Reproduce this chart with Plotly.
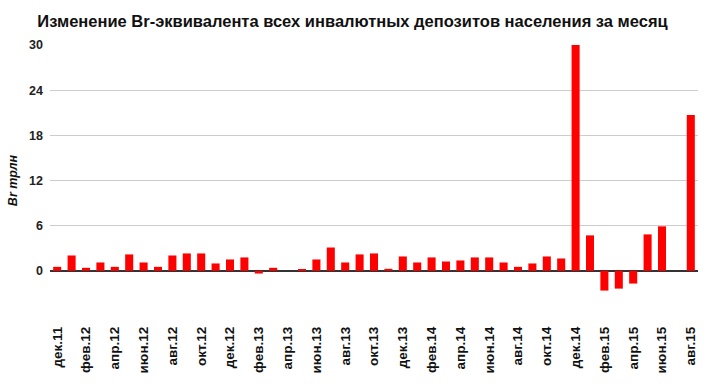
import plotly.graph_objects as go

months = [
    "дек.11", "янв.12", "фев.12", "мар.12", "апр.12", "май.12", "июн.12", "июл.12",
    "авг.12", "сен.12", "окт.12", "ноя.12", "дек.12", "янв.13", "фев.13", "мар.13",
    "апр.13", "май.13", "июн.13", "июл.13", "авг.13", "сен.13", "окт.13", "ноя.13",
    "дек.13", "янв.14", "фев.14", "мар.14", "апр.14", "май.14", "июн.14", "июл.14",
    "авг.14", "сен.14", "окт.14", "ноя.14", "дек.14", "янв.15", "фев.15", "мар.15",
    "апр.15", "май.15", "июн.15", "июл.15", "авг.15",
]
values = [
    0.53, 2.04, 0.4, 1.11, 0.53, 2.18, 1.11, 0.53, 2.04, 2.31, 2.31, 0.98,
    1.51, 1.78, -0.36, 0.4, 0, 0.18, 1.51, 3.1, 1.11, 2.18, 2.31, 0.27,
    1.91, 1.11, 1.78, 1.24, 1.38, 1.78, 1.78, 1.11, 0.53, 0.98, 1.91, 1.64,
    30, 4.71, -2.62, -2.36, -1.69, 4.84, 5.91, 0, 20.7,
]
shown_ticks = months[::2]
y_ticks = [0, 6, 12, 18, 24, 30]

FONT = "Liberation Sans, Arial, Helvetica, sans-serif"

fig = go.Figure(
    go.Bar(x=months, y=values, marker=dict(color="#ff0000", line=dict(width=0)),
           width=0.56)
)

fig.update_layout(
    width=718, height=384,
    margin=dict(l=50, r=20, t=45, b=68),
    paper_bgcolor="white", plot_bgcolor="white",
    showlegend=False,
    font=dict(family=FONT, color="#222222"),
    title=dict(
        text="Изменение Br-эквивалента всех инвалютных депозитов населения за месяц",
        font=dict(family=FONT, size=16.5, color="#111111", weight="bold"),
        x=0.491, xanchor="center", xref="container",
        y=0.945, yanchor="middle", yref="container",
    ),
    xaxis=dict(
        type="category",
        tickmode="array", tickvals=shown_ticks, ticktext=shown_ticks,
        tickangle=-90,
        tickfont=dict(family=FONT, size=13.5, color="#111111", weight="bold"),
        showgrid=False, showline=False, ticks="", ticklabelstandoff=7,
        range=[-0.5, len(months) - 0.5],
        automargin=False,
    ),
    yaxis=dict(
        range=[-6, 30],
        tickmode="array", tickvals=y_ticks,
        tickfont=dict(family=FONT, size=12.5, color="#222222", weight="bold"),
        showgrid=True, gridcolor="#cccccc", gridwidth=1,
        zeroline=True, zerolinecolor="#333333", zerolinewidth=1.5,
        showline=False, ticks="", ticklabelstandoff=6,
        title=dict(text="Br трлн",
                   font=dict(family=FONT, size=12.5, color="#111111", weight="bold", style="italic"),
                   standoff=8),
    ),
)

fig.write_html("out.html", config={"displayModeBar": False},
               post_script="document.body.style.margin='0';")
